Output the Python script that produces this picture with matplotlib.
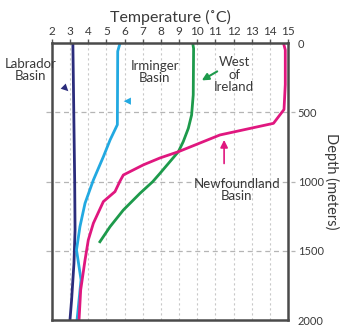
import numpy as np
import matplotlib
matplotlib.use("Agg")
import matplotlib.pyplot as plt

plt.rcParams["font.family"] = ["Lato", "DejaVu Sans"]

# temperature (deg C) vs depth (m)
labrador_temp = [3.15, 3.2, 3.25, 3.27, 3.21, 3.08, 2.99]
labrador_depth = [0, 500, 1000, 1350, 1590, 1855, 2000]

irminger_temp = [5.75, 5.62, 5.6, 5.2, 4.83, 4.28, 3.82, 3.54, 3.35, 3.6, 3.38]
irminger_depth = [0, 60, 590, 700, 821, 989, 1157, 1326, 1494, 1710, 2000]

ireland_temp = [9.75, 9.8, 9.78, 9.69, 9.51, 9.23, 8.96, 7.95, 7.55, 6.85, 5.93, 5.2, 4.64]
ireland_depth = [0, 40, 375, 520, 616, 712, 785, 941, 1001, 1085, 1206, 1326, 1435]

newf_temp = [14.75, 14.85, 14.85, 14.78, 14.2, 11.25, 8.96, 7.95, 7.03, 5.93, 5.75,
             5.47, 4.83, 4.28, 4.0, 3.82, 3.58, 3.49]
newf_depth = [0, 50, 300, 480, 580, 664, 785, 830, 880, 953, 996,
              1073, 1145, 1301, 1422, 1567, 1783, 2000]

NAVY = "#2b2c7c"
CYAN = "#22a9e1"
GREEN = "#1d9a4b"
MAGENTA = "#e0177f"
TEXT = "#3a3a3a"

fig = plt.figure(figsize=(3.45, 3.27), dpi=100)
ax = fig.add_axes([0.1507, 0.0214, 0.6841, 0.8471])

# grid: dotted verticals, dashed horizontals that poke out past the frame
for t in range(3, 15):
    ax.axvline(t, color="#c8c8c8", lw=0.8, ls=(0, (2, 2.5)), zorder=0)
for d in [500, 1000, 1500]:
    ax.axhline(d, xmin=-0.025, xmax=1.03, color="#b5b5b5", lw=0.9,
               ls=(0, (4, 3)), zorder=0, clip_on=False)

ax.plot(labrador_temp, labrador_depth, color=NAVY, lw=2)
ax.plot(irminger_temp, irminger_depth, color=CYAN, lw=2)
ax.plot(ireland_temp, ireland_depth, color=GREEN, lw=2)
ax.plot(newf_temp, newf_depth, color=MAGENTA, lw=2)

ax.set_xlim(2, 15)
ax.set_ylim(2000, 0)

ax.xaxis.tick_top()
ax.xaxis.set_label_position("top")
ax.set_xticks(range(2, 16))
ax.yaxis.tick_right()
ax.yaxis.set_label_position("right")
ax.set_yticks([0, 500, 1000, 1500, 2000])
ax.tick_params(axis="x", length=3, width=1, color="#555555", labelsize=8.5,
               labelcolor=TEXT, pad=1)
ax.tick_params(axis="y", length=0, labelsize=8, labelcolor=TEXT, pad=7)

for s in ax.spines.values():
    s.set_color("#4a4a4a")
    s.set_linewidth(1.8)

ax.set_xlabel("Temperature (˚C)", fontsize=11.5, color=TEXT, labelpad=3)
ax.set_ylabel("Depth (meters)", fontsize=10.5, color=TEXT, rotation=270,
              labelpad=11)

# basin labels with little arrows
txt_kw = dict(fontsize=9.5, color=TEXT, ha="center", va="center",
              linespacing=1.05)
ax.text(0.8, 195, "Labrador\nBasin", clip_on=False, **txt_kw)
ax.annotate("", xy=(2.9, 348), xytext=(2.45, 290), annotation_clip=False,
            arrowprops=dict(arrowstyle="-|>", color=NAVY, lw=0,
                            shrinkA=0, shrinkB=0, mutation_scale=13))
ax.text(7.67, 209, "Irminger\nBasin", **txt_kw)
ax.annotate("", xy=(5.95, 420), xytext=(6.5, 420),
            arrowprops=dict(arrowstyle="-|>", color=CYAN, lw=0,
                            shrinkA=0, shrinkB=0, mutation_scale=13))
ax.text(12.03, 231, "West\nof\nIreland", **txt_kw)
ax.annotate("", xy=(10.25, 270), xytext=(11.1, 205),
            arrowprops=dict(arrowstyle="-|>", color=GREEN, lw=1.5,
                            shrinkA=0, shrinkB=0, mutation_scale=10))
ax.text(12.19, 1061, "Newfoundland\nBasin", **txt_kw)
ax.annotate("", xy=(11.48, 700), xytext=(11.48, 870),
            arrowprops=dict(arrowstyle="-|>", color=MAGENTA, lw=1.2,
                            shrinkA=0, shrinkB=0, mutation_scale=11))

fig.savefig("out.png", dpi=100)
